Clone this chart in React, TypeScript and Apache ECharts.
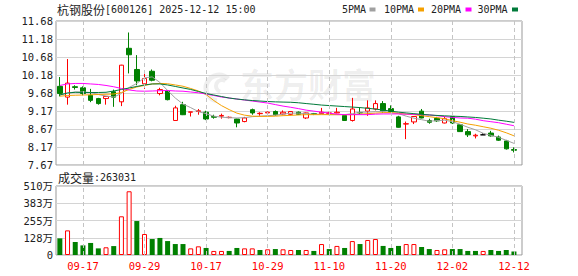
import React, { useEffect, useRef } from 'react';
import * as echarts from 'echarts';

const dates = ['09-12','09-15','09-16','09-17','09-18','09-19','09-22','09-23','09-24','09-25','09-26','09-29','09-30','10-09','10-10','10-13','10-14','10-15','10-16','10-17','10-20','10-21','10-22','10-23','10-24','10-27','10-28','10-29','10-30','10-31','11-03','11-04','11-05','11-06','11-07','11-10','11-11','11-12','11-13','11-14','11-17','11-18','11-19','11-20','11-21','11-24','11-25','11-26','11-27','11-28','12-01','12-02','12-03','12-04','12-05','12-08','12-09','12-10','12-11','12-12'];
const tickDates = ['09-17','09-29','10-17','10-29','11-10','11-20','12-02','12-12'];

const opens = [9.86,9.56,9.85,9.82,9.61,9.52,9.52,9.71,9.43,10.92,10.33,9.93,10.28,9.66,9.73,8.91,9.35,9.14,9.16,9.14,9.02,9.03,8.99,8.95,8.88,9.21,9.10,9.12,9.16,9.09,9.08,9.14,8.98,9.10,9.10,9.11,9.12,9.05,8.91,9.13,9.17,9.23,9.38,9.24,9.01,8.81,8.87,9.17,8.91,8.97,8.84,9.02,8.79,8.60,8.48,8.51,8.56,8.45,8.34,8.10];
const closes = [9.66,9.95,9.83,9.66,9.47,9.38,9.58,9.56,10.45,10.74,10.01,10.08,10.03,9.77,9.49,9.26,9.07,9.15,9.18,8.95,9.00,9.05,9.00,8.84,8.98,9.12,9.11,9.14,9.07,9.14,9.16,9.08,9.12,9.09,9.14,9.12,9.14,8.91,9.23,9.12,9.26,9.38,9.18,9.16,8.72,8.82,9.02,8.98,8.86,8.90,8.96,8.84,8.60,8.51,8.50,8.51,8.48,8.36,8.12,8.08];
const lows = [9.58,9.35,9.77,9.61,9.42,9.35,9.35,9.29,9.31,10.22,9.89,9.79,10.00,9.61,9.47,8.91,9.06,9.02,9.07,8.92,8.96,8.96,8.97,8.72,8.86,9.07,9.04,9.07,9.04,9.06,9.05,9.06,8.95,9.06,9.09,9.08,9.11,8.90,8.88,9.08,9.04,9.19,9.12,9.14,8.71,8.39,8.81,8.97,8.82,8.87,8.83,8.81,8.59,8.45,8.41,8.51,8.46,8.34,8.10,8.02];
const highs = [10.12,10.62,9.89,9.86,9.79,9.54,9.58,9.77,10.46,11.36,10.73,10.24,10.33,9.82,9.75,9.32,9.43,9.15,9.23,9.18,9.07,9.10,9.02,8.96,9.01,9.24,9.14,9.16,9.19,9.19,9.17,9.16,9.13,9.12,9.26,9.15,9.26,9.06,9.54,9.26,9.47,9.47,9.45,9.33,9.04,8.88,9.03,9.23,8.96,9.01,9.02,9.05,8.81,8.67,8.54,8.55,8.62,8.49,8.37,8.16];
const volumes = [1230000,1820000,960000,710000,890000,490000,570000,660000,2860000,4710000,2510000,1550000,1180000,1260000,1030000,810000,810000,490000,640000,520000,300000,300000,300000,520000,490000,490000,370000,420000,440000,420000,370000,370000,370000,300000,810000,440000,670000,520000,1030000,810000,1110000,1180000,670000,520000,670000,810000,810000,590000,440000,370000,420000,440000,440000,300000,300000,300000,370000,300000,370000,263031];

const ma5 = [9.625,9.675,9.703,9.703,9.689,9.633,9.591,9.563,9.661,9.829,9.941,10.096,10.124,9.969,9.745,9.535,9.366,9.268,9.156,9.100,9.030,9.002,8.988,8.979,8.988,9.016,9.030,9.044,9.058,9.086,9.114,9.114,9.100,9.086,9.086,9.072,9.072,9.072,9.100,9.142,9.142,9.156,9.156,9.128,9.100,9.030,8.974,8.932,8.890,8.904,8.918,8.876,8.806,8.722,8.651,8.553,8.497,8.441,8.357,8.273];
const ma10 = [9.585,9.605,9.613,9.619,9.625,9.633,9.641,9.647,9.689,9.773,9.843,9.885,9.927,9.941,9.933,9.899,9.863,9.801,9.731,9.633,9.465,9.324,9.212,9.114,9.058,9.030,9.024,9.024,9.030,9.044,9.052,9.064,9.072,9.072,9.072,9.072,9.072,9.072,9.072,9.086,9.100,9.114,9.128,9.128,9.114,9.086,9.072,9.044,9.016,8.988,8.960,8.904,8.862,8.812,8.778,8.736,8.694,8.638,8.567,8.483];
const ma20 = [9.885,9.927,9.941,9.941,9.927,9.913,9.885,9.849,9.801,9.759,9.731,9.725,9.731,9.739,9.745,9.731,9.725,9.703,9.681,9.647,9.605,9.563,9.535,9.507,9.479,9.451,9.423,9.395,9.352,9.310,9.277,9.240,9.198,9.170,9.142,9.114,9.086,9.072,9.072,9.072,9.072,9.086,9.092,9.092,9.092,9.086,9.080,9.072,9.064,9.044,9.016,8.996,8.979,8.974,8.946,8.904,8.876,8.848,8.806,8.764];
const ma30 = [9.619,9.675,9.695,9.689,9.689,9.689,9.695,9.731,9.773,9.815,9.857,9.899,9.927,9.927,9.899,9.857,9.815,9.773,9.717,9.661,9.619,9.577,9.535,9.507,9.484,9.465,9.451,9.437,9.428,9.422,9.417,9.403,9.381,9.361,9.339,9.325,9.311,9.297,9.283,9.269,9.249,9.227,9.199,9.171,9.142,9.120,9.100,9.081,9.064,9.050,9.039,9.030,9.022,9.008,8.994,8.974,8.952,8.919,8.890,8.857];

const stockName = '杭钢股份';
const stockInfo = '[600126] 2025-12-12 15:00';
const maNames = ['5PMA', '10PMA', '20PMA', '30PMA'];
const priceMin = 7.67;
const priceMax = 11.68;
const volMax = 5100000;

const MONO = "'DejaVu Sans Mono', 'Noto Sans CJK SC', monospace";
const CJK = "'Noto Sans CJK SC', sans-serif";
const MA_COLORS = ['#a0a0a0', '#f5a000', '#ff00ff', '#007a3a'];
const UP = '#ff0000';
const DOWN = '#008000';
const WM = 'rgba(0,0,0,0.065)';

export default function App() {
  const ref = useRef<HTMLDivElement>(null);
  useEffect(() => {
    const chart = echarts.init(ref.current!, null, { renderer: 'svg' });
    const GL = 56, MT = 21, MH = 144, VT = 186, VH = 69, FW = 466, DW = 461.8;

    const candleData = dates.map((_, i) => {
      const item: any = { value: [opens[i], closes[i], lows[i], highs[i]] };
      if (opens[i] === closes[i]) {
        item.itemStyle = { borderColor: '#000', borderColor0: '#000', color: '#000', color0: '#000' };
      }
      return item;
    });
    const volData = volumes.map((v, i) => {
      const up = i === 0 ? closes[0] >= opens[0] : closes[i] >= closes[i - 1];
      return {
        value: v,
        itemStyle: up
          ? { color: '#ffffff', borderColor: UP, borderWidth: 1 }
          : { color: DOWN, borderColor: DOWN, borderWidth: 0 },
      };
    });
    const vMark = (xi: number, yi: number) => ({
      type: 'line',
      xAxisIndex: xi,
      yAxisIndex: yi,
      data: [],
      z: 1,
      silent: true,
      markLine: {
        silent: true,
        symbol: ['none', 'none'],
        label: { show: false },
        lineStyle: { color: '#c4c4c4', type: [4, 3], width: 1 },
        data: tickDates.map((d) => ({ xAxis: d })),
      },
    });
    const maSeries = [ma5, ma10, ma20, ma30].map((arr, k) => ({
      type: 'line',
      name: maNames[k],
      xAxisIndex: 1,
      yAxisIndex: 1,
      data: arr,
      symbol: 'none',
      showSymbol: false,
      smooth: false,
      z: 3,
      lineStyle: { width: 1, color: MA_COLORS[k] },
    }));

    const legendX = [342, 384, 431, 477.5];
    const legendSq = [369.5, 418, 465.5, 512];
    const graphics: any[] = [
      {
        type: 'arc',
        silent: true,
        shape: { cx: 219, cy: 88, r: 13, startAngle: Math.PI * 0.55, endAngle: Math.PI * 1.75 },
        style: { stroke: WM, lineWidth: 5, fill: 'none' },
      },
      {
        type: 'arc',
        silent: true,
        shape: { cx: 222, cy: 86, r: 6, startAngle: Math.PI * 0.6, endAngle: Math.PI * 1.7 },
        style: { stroke: WM, lineWidth: 4, fill: 'none' },
      },
      {
        type: 'text',
        x: 240,
        y: 83,
        silent: true,
        style: {
          text: '东方财富',
          font: `bold 34px ${CJK}`,
          fill: WM,
          verticalAlign: 'middle',
        },
      },
      {
        type: 'text',
        x: 57,
        y: 9,
        style: {
          text: `{c|${stockName}}{a|${stockInfo}}`,
          verticalAlign: 'middle',
          fill: '#222',
          rich: {
            c: { fontFamily: CJK, fontSize: 12, fill: '#222' },
            a: { fontFamily: MONO, fontSize: 10, fill: '#222' },
          },
        },
      },
      {
        type: 'text',
        x: 58,
        y: 177,
        style: {
          text: `{c|成交量}{a|:${volumes[volumes.length - 1]}}`,
          verticalAlign: 'middle',
          fill: '#222',
          rich: {
            c: { fontFamily: CJK, fontSize: 12, fill: '#222' },
            a: { fontFamily: MONO, fontSize: 10, fill: '#222' },
          },
        },
      },
    ];
    maNames.forEach((n, k) => {
      graphics.push({
        type: 'text',
        x: legendX[k],
        y: 9.5,
        style: { text: n, font: `10px ${MONO}`, fill: '#222', verticalAlign: 'middle' },
      });
      graphics.push({
        type: 'rect',
        shape: { x: legendSq[k], y: 7.5, width: 6, height: 4 },
        style: { fill: MA_COLORS[k] },
      });
    });

    const option: any = {
      animation: false,
      backgroundColor: '#ffffff',
      grid: [
        { left: GL, top: MT, width: FW, height: MH, show: true, borderColor: '#999', borderWidth: 1, backgroundColor: 'transparent' },
        { left: GL, top: MT, width: DW, height: MH },
        { left: GL, top: VT, width: FW, height: VH, show: true, borderColor: '#999', borderWidth: 1, backgroundColor: 'transparent' },
        { left: GL, top: VT, width: DW, height: VH },
      ],
      xAxis: [
        { gridIndex: 0, type: 'value', show: false, min: 0, max: 1 },
        { gridIndex: 1, type: 'category', data: dates, show: false },
        { gridIndex: 2, type: 'value', show: false, min: 0, max: 1 },
        {
          gridIndex: 3,
          type: 'category',
          data: dates,
          axisLine: { show: false },
          axisTick: { show: false },
          splitLine: { show: false },
          axisLabel: {
            interval: (idx: number, val: string) => tickDates.includes(val),
            color: UP,
            fontFamily: MONO,
            fontSize: 10.5,
            margin: 6,
          },
        },
      ],
      yAxis: [
        {
          gridIndex: 0,
          type: 'value',
          min: priceMin,
          max: priceMax,
          interval: (priceMax - priceMin) / 8,
          axisLine: { show: false },
          axisTick: { show: false },
          axisLabel: {
            formatter: (v: number) => v.toFixed(2),
            color: '#222',
            fontFamily: MONO,
            fontSize: 10.5,
            margin: 3,
          },
          splitLine: { lineStyle: { color: '#d4d4d4', width: 1 } },
        },
        { gridIndex: 1, type: 'value', min: priceMin, max: priceMax, show: false, splitLine: { show: false } },
        {
          gridIndex: 2,
          type: 'value',
          min: 0,
          max: volMax,
          interval: volMax / 4,
          axisLine: { show: false },
          axisTick: { show: false },
          axisLabel: {
            formatter: (v: number) => (v === 0 ? '0' : Math.round(v / 10000) + '万'),
            color: '#222',
            fontFamily: MONO,
            fontSize: 10.5,
            margin: 3,
          },
          splitLine: { lineStyle: { color: '#d4d4d4', width: 1 } },
        },
        { gridIndex: 3, type: 'value', min: 0, max: volMax, show: false, splitLine: { show: false } },
      ],
      series: [
        vMark(1, 1),
        vMark(3, 3),
        {
          type: 'candlestick',
          xAxisIndex: 1,
          yAxisIndex: 1,
          data: candleData,
          barWidth: 5,
          z: 2,
          itemStyle: {
            color: '#ffffff',
            color0: DOWN,
            borderColor: UP,
            borderColor0: DOWN,
            borderColorDoji: '#000',
            borderWidth: 1,
          },
        },
        ...maSeries,
        {
          type: 'bar',
          xAxisIndex: 3,
          yAxisIndex: 3,
          data: volData,
          barWidth: 5,
          z: 2,
        },
      ],
      graphic: graphics,
    };
    chart.setOption(option);
    return () => chart.dispose();
  }, []);
  return <div ref={ref} style={{ position: 'absolute', left: 0, top: 0, width: 578, height: 276 }} />;
}
